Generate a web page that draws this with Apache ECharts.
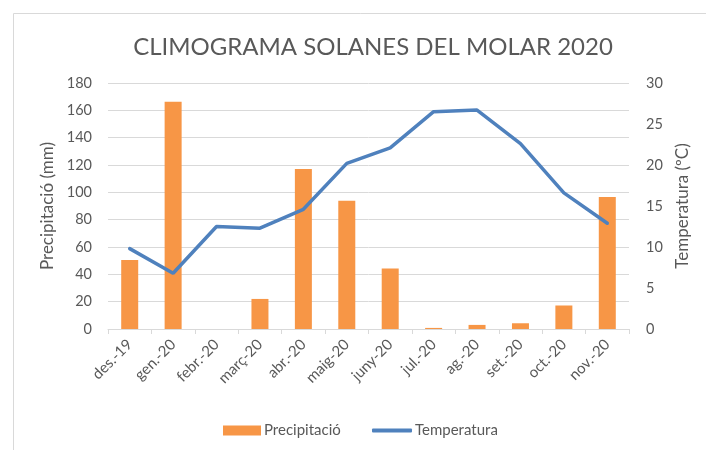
<!DOCTYPE html>
<html>
<head>
<meta charset="utf-8">
<script src="https://cdn.jsdelivr.net/npm/echarts@6/dist/echarts.min.js"></script>
<style>
  html, body { margin: 0; padding: 0; background: #fff; }
  #chart { width: 706px; height: 450px; }
</style>
</head>
<body>
<div id="chart"></div>
<script>
const months = ['des.-19', 'gen.-20', 'febr.-20', 'març-20', 'abr.-20', 'maig-20',
  'juny-20', 'jul.-20', 'ag.-20', 'set.-20', 'oct.-20', 'nov.-20']
const precipitacio = [50.4, 166.2, 0, 22, 117, 93.8, 44.2, 0.8, 3, 4.2, 17.2, 96.6]
const temperatura = [9.8, 6.8, 12.5, 12.3, 14.6, 20.2, 22.1, 26.5, 26.7, 22.6, 16.6, 12.9]

const textColor = '#595959'
const gridColor = '#d9d9d9'
const font = 'Lato'

const chart = echarts.init(document.getElementById('chart'))

const legendText = { fontFamily: font, fontSize: 15, color: textColor, padding: [0, 0, 0, -2] }

chart.setOption({
  animation: false,
  textStyle: { fontFamily: font, color: textColor },
  title: {
    text: 'CLIMOGRAMA SOLANES DEL MOLAR 2020',
    left: 368,
    top: 30,
    textAlign: 'center',
    textStyle: { fontFamily: font, fontSize: 24, fontWeight: 'normal', color: textColor }
  },
  graphic: [{
    type: 'rect',
    left: 11,
    top: 11,
    shape: { width: 720, height: 460 },
    style: { fill: 'none', stroke: '#d9d9d9', lineWidth: 1 },
    silent: true
  }],
  legend: [{
    top: 418,
    left: 218,
    itemWidth: 38,
    itemHeight: 10,
    textStyle: legendText,
    data: [{ name: 'Precipitació', icon: 'rect' }]
  }, {
    top: 418,
    left: 367,
    itemWidth: 40,
    itemHeight: 4,
    textStyle: legendText,
    data: [{ name: 'Temperatura', icon: 'roundRect' }]
  }],
  grid: { left: 108, right: 77, top: 83, bottom: 121 },
  xAxis: {
    type: 'category',
    data: months,
    axisLine: { lineStyle: { color: gridColor } },
    axisTick: { show: true, length: 5, lineStyle: { color: gridColor } },
    axisLabel: { rotate: 45, fontSize: 15, color: textColor, margin: 13, interval: 0 }
  },
  yAxis: [{
    type: 'value',
    min: 0,
    max: 180,
    interval: 20,
    name: 'Precipitació (mm)',
    nameLocation: 'middle',
    nameGap: 52,
    nameTextStyle: { fontSize: 17, color: textColor },
    axisLabel: { fontSize: 14.5, color: textColor, margin: 16 },
    axisLine: { show: false },
    axisTick: { show: false },
    splitLine: { lineStyle: { color: gridColor, width: 1 } }
  }, {
    type: 'value',
    min: 0,
    max: 30,
    interval: 5,
    name: 'Temperatura (ºC)',
    nameLocation: 'middle',
    nameGap: 42,
    nameRotate: 90,
    nameTextStyle: { fontSize: 17, color: textColor },
    axisLabel: { fontSize: 14.5, color: textColor, margin: 17 },
    axisLine: { show: false },
    axisTick: { show: false },
    splitLine: { show: false }
  }],
  series: [{
    name: 'Precipitació',
    type: 'bar',
    data: precipitacio,
    barWidth: 17,
    itemStyle: { color: '#F79646' }
  }, {
    name: 'Temperatura',
    type: 'line',
    yAxisIndex: 1,
    data: temperatura,
    symbol: 'none',
    lineStyle: { color: '#4F81BD', width: 3.5, cap: 'round' },
    itemStyle: { color: '#4F81BD' }
  }]
})
</script>
</body>
</html>
